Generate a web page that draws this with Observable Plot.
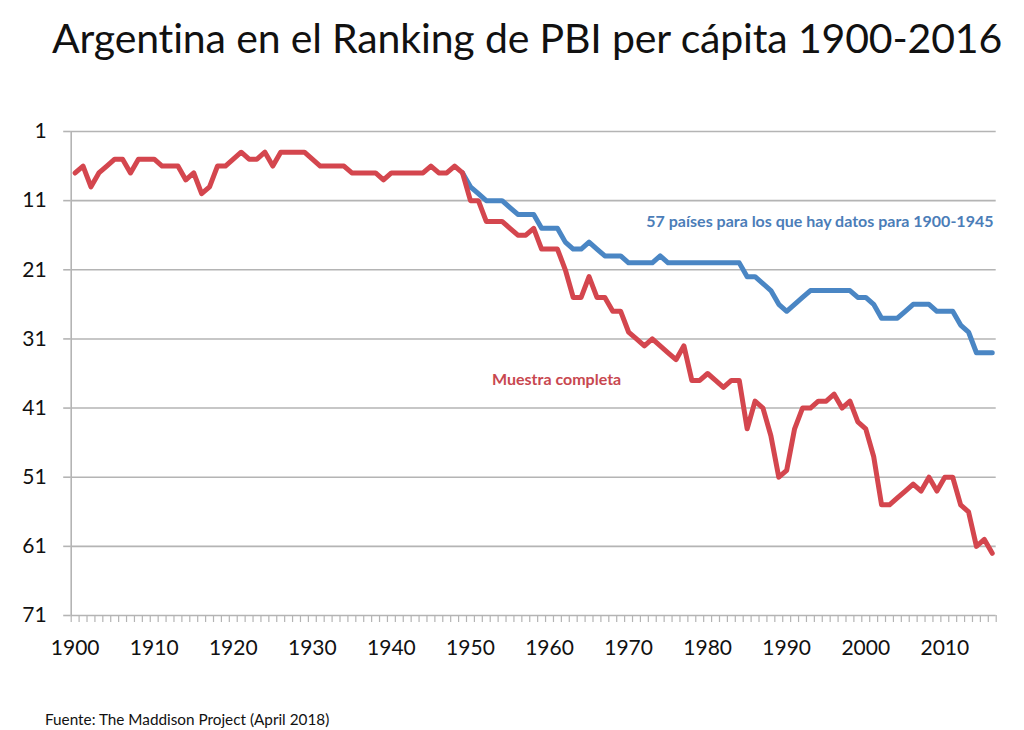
<!DOCTYPE html>
<html>
<head>
<meta charset="utf-8">
<script src="https://cdn.jsdelivr.net/npm/d3@7"></script>
<script src="https://cdn.jsdelivr.net/npm/@observablehq/plot@0.6"></script>
<style>
  html, body { margin: 0; padding: 0; background: #fff; }
  #wrap { position: relative; width: 1024px; height: 730px; overflow: hidden; font-family: Lato, "Open Sans", sans-serif; }
  #title { position: absolute; left: 52px; top: 13px; font-size: 41px; color: #111; white-space: nowrap; letter-spacing: -0.15px; }
  #foot { position: absolute; left: 45px; top: 710px; font-size: 15.3px; color: #111; white-space: nowrap; }
  #chart { position: absolute; left: 0; top: 0; }
</style>
</head>
<body>
<div id="wrap">
  <div id="chart"></div>
  <div id="title">Argentina en el Ranking de PBI per cápita 1900-2016</div>
  <div id="foot">Fuente: The Maddison Project (April 2018)</div>
</div>
<script>
// ---- Data ----
const firstYear = 1900;
const lastYear = 2016;

// "Muestra completa" ranking, 1900-2016, one value per year
const muestraCompleta = [
  7, 6, 9, 7, 6, 5, 5, 7, 5, 5,          // 1900s
  5, 6, 6, 6, 8, 7, 10, 9, 6, 6,         // 1910s
  5, 4, 5, 5, 4, 6, 4, 4, 4, 4,          // 1920s
  5, 6, 6, 6, 6, 7, 7, 7, 7, 8,          // 1930s
  7, 7, 7, 7, 7, 6, 7, 7, 6, 7,          // 1940s
  11, 11, 14, 14, 14, 15, 16, 16, 15, 18, // 1950s
  18, 18, 21, 25, 25, 22, 25, 25, 27, 27, // 1960s
  30, 31, 32, 31, 32, 33, 34, 32, 37, 37, // 1970s
  36, 37, 38, 37, 37, 44, 40, 41, 45, 51, // 1980s
  50, 44, 41, 41, 40, 40, 39, 41, 40, 43, // 1990s
  44, 48, 55, 55, 54, 53, 52, 53, 51, 53, // 2000s
  51, 51, 55, 56, 61, 60, 62              // 2010-2016
];

// "57 países ..." ranking, 1949-2016
const blueStart = 1949;
const paises57 = [
  7,                                      // 1949
  9, 10, 11, 11, 11, 12, 13, 13, 13, 15,  // 1950s
  15, 15, 17, 18, 18, 17, 18, 19, 19, 19, // 1960s
  20, 20, 20, 20, 19, 20, 20, 20, 20, 20, // 1970s
  20, 20, 20, 20, 20, 22, 22, 23, 24, 26, // 1980s
  27, 26, 25, 24, 24, 24, 24, 24, 24, 25, // 1990s
  25, 26, 28, 28, 28, 27, 26, 26, 26, 27, // 2000s
  27, 27, 29, 30, 33, 33, 33              // 2010-2016
];

const yTicks = [1, 11, 21, 31, 41, 51, 61, 71];
const xLabelTicks = [1900, 1910, 1920, 1930, 1940, 1950, 1960, 1970, 1980, 1990, 2000, 2010];

const labels = [
  {text: "57 países para los que hay datos para 1900-1945", year: 1994.2, rank: 14.0, color: "#4b7db8"},
  {text: "Muestra completa", year: 1960.9, rank: 36.9, color: "#c8474f"}
];

// ---- Build tables ----
const redData = muestraCompleta.map((v, i) => ({year: firstYear + i, rank: v}));
const blueData = paises57.map((v, i) => ({year: blueStart + i, rank: v}));
const boundaries = [];
for (let y = firstYear; y <= lastYear + 1; y++) boundaries.push(y - 0.5);

const gray = "#b4b4b4";

const chart = Plot.plot({
  width: 1024,
  height: 730,
  marginLeft: 70.7,
  marginRight: 28.3,
  marginTop: 131,
  marginBottom: 115,
  style: {background: "transparent", fontFamily: "Lato, 'Open Sans', sans-serif", color: "#111"},
  x: {domain: [firstYear - 0.5, lastYear + 0.5]},
  y: {domain: [1, 71], reverse: true},
  marks: [
    Plot.gridY(yTicks, {stroke: gray, strokeOpacity: 1, strokeWidth: 1.6}),
    Plot.axisY(yTicks, {tickSize: 7.5, tickPadding: 17, stroke: gray, strokeWidth: 1.6, fontSize: 21, fill: "#111", label: null}),
    Plot.ruleX([firstYear - 0.5], {stroke: gray, strokeWidth: 1.6}),
    Plot.axisX({ticks: boundaries, tickSize: 7, tickFormat: () => "", stroke: gray, strokeWidth: 1.2, label: null}),
    Plot.axisX({ticks: xLabelTicks, tickSize: 0, tickPadding: 25, tickFormat: d => String(d), fontSize: 21, fill: "#111", label: null}),
    Plot.line(blueData, {x: "year", y: "rank", stroke: "#4a86c4", strokeWidth: 5, strokeLinejoin: "round", strokeLinecap: "round"}),
    Plot.line(redData, {x: "year", y: "rank", stroke: "#d4464e", strokeWidth: 5, strokeLinejoin: "round", strokeLinecap: "round"}),
    Plot.text(labels, {x: "year", y: "rank", text: "text", fill: "color", fontSize: 16, fontWeight: "bold", textAnchor: "middle"})
  ]
});
document.getElementById("chart").appendChild(chart);
</script>
</body>
</html>
